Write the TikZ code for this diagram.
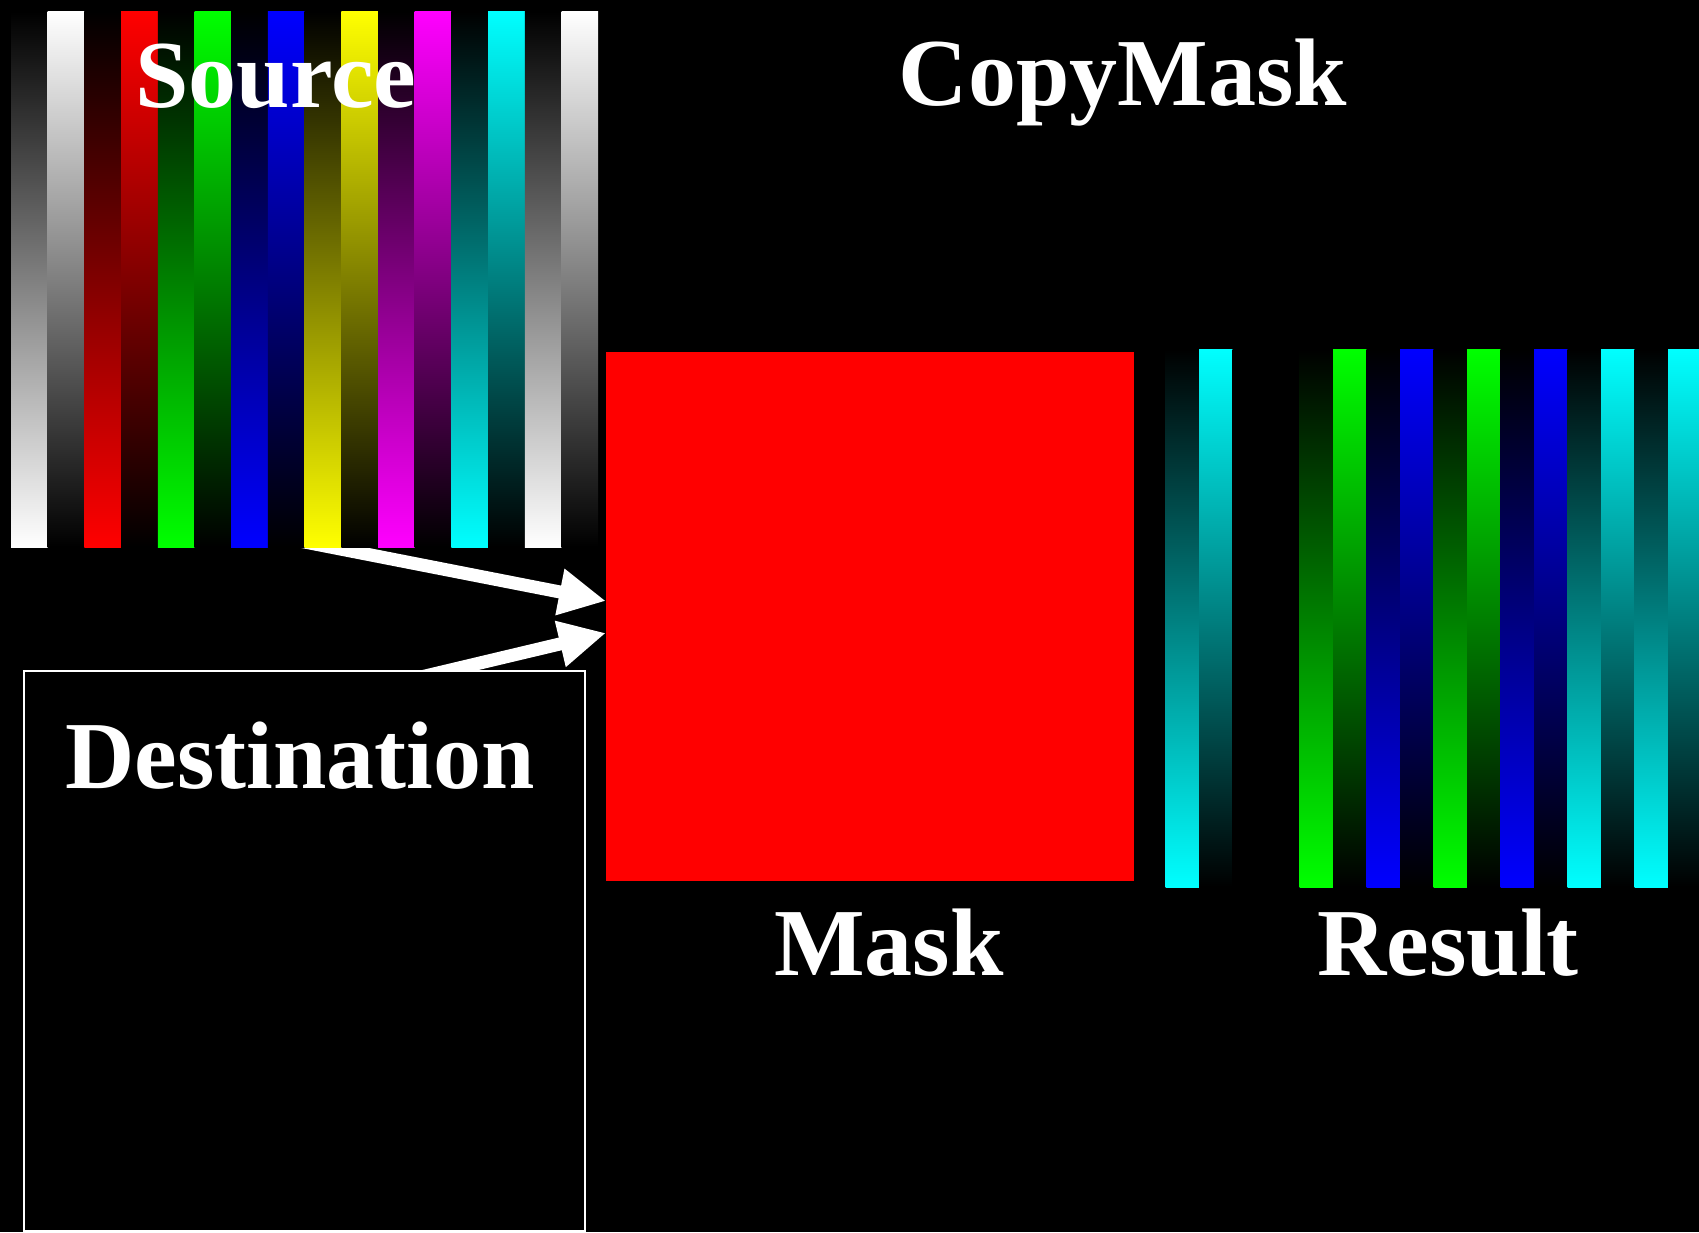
\documentclass[tikz,border=0pt]{standalone}
\usepackage{fontspec}
\setmainfont{Liberation Serif}
\usetikzlibrary{arrows.meta}
\begin{document}
\begin{tikzpicture}[x=1pt,y=-1pt,
  lbl/.style={text=white, font=\fontsize{96}{100}\selectfont\bfseries, anchor=base, inner sep=0pt},
  arr/.style={draw=white, line width=13pt, -{Triangle[length=47pt,width=44pt]}},
  imgbox/.style={inner sep=0pt, anchor=north west},
]
\fill[black] (0,0) rectangle (1699,1232);
\useasboundingbox (0,0) rectangle (1699,1232);

% mask image
\node[imgbox, fill=red, minimum width=528pt, minimum height=529pt] (mask) at (606,352) {};

% connectors (start points are hidden under the source and destination images)
\coordinate (a1s) at (250,531.3);
\coordinate (a2s) at (400,682);
\coordinate (t1) at (606,601);
\coordinate (t2) at (606,633);
\draw[arr] (a1s) -- (t1);
\draw[arr] (a2s) -- (t2);

% source image
\node[imgbox, minimum width=587.2pt, minimum height=536pt] (src) at (11,11) {};
\foreach \c [count=\i from 0] in {white,red,green,blue,yellow,magenta,cyan,white} {
  \shade[top color=black, bottom color=\c] ({11+2*\i*36.7},11) rectangle ++(36.8,536);
  \shade[top color=\c, bottom color=black] ({11+(2*\i+1)*36.7},11) rectangle ++(36.7,536);
}

% destination image
\node[imgbox, draw=white, line width=2pt, fill=black, minimum width=560.5pt, minimum height=560pt] (dest) at (23,670) {};

% result image
\begin{scope}
\clip (0,0) rectangle (1699,1232);
\node[imgbox, minimum width=536pt, minimum height=538pt] (res) at (1165.5,349) {};
\foreach \c [count=\i from 0] in {cyan,black,green,blue,green,blue,cyan,cyan} {
  \shade[top color=black, bottom color=\c] ({1165.5+2*\i*33.5},349) rectangle ++(33.6,538);
  \shade[top color=\c, bottom color=black] ({1165.5+(2*\i+1)*33.5},349) rectangle ++(33.5,538);
}
\end{scope}

% labels
\node[lbl] (srcl) at (276,107) {Source};
\node[lbl] (title) at (1123,105) {CopyMask};
\node[lbl] (destl) at (300,788) {Destination};
\node[lbl] (maskl) at (889,975) {Mask};
\node[lbl] (resl) at (1448,975) {Result};
\end{tikzpicture}
\end{document}
